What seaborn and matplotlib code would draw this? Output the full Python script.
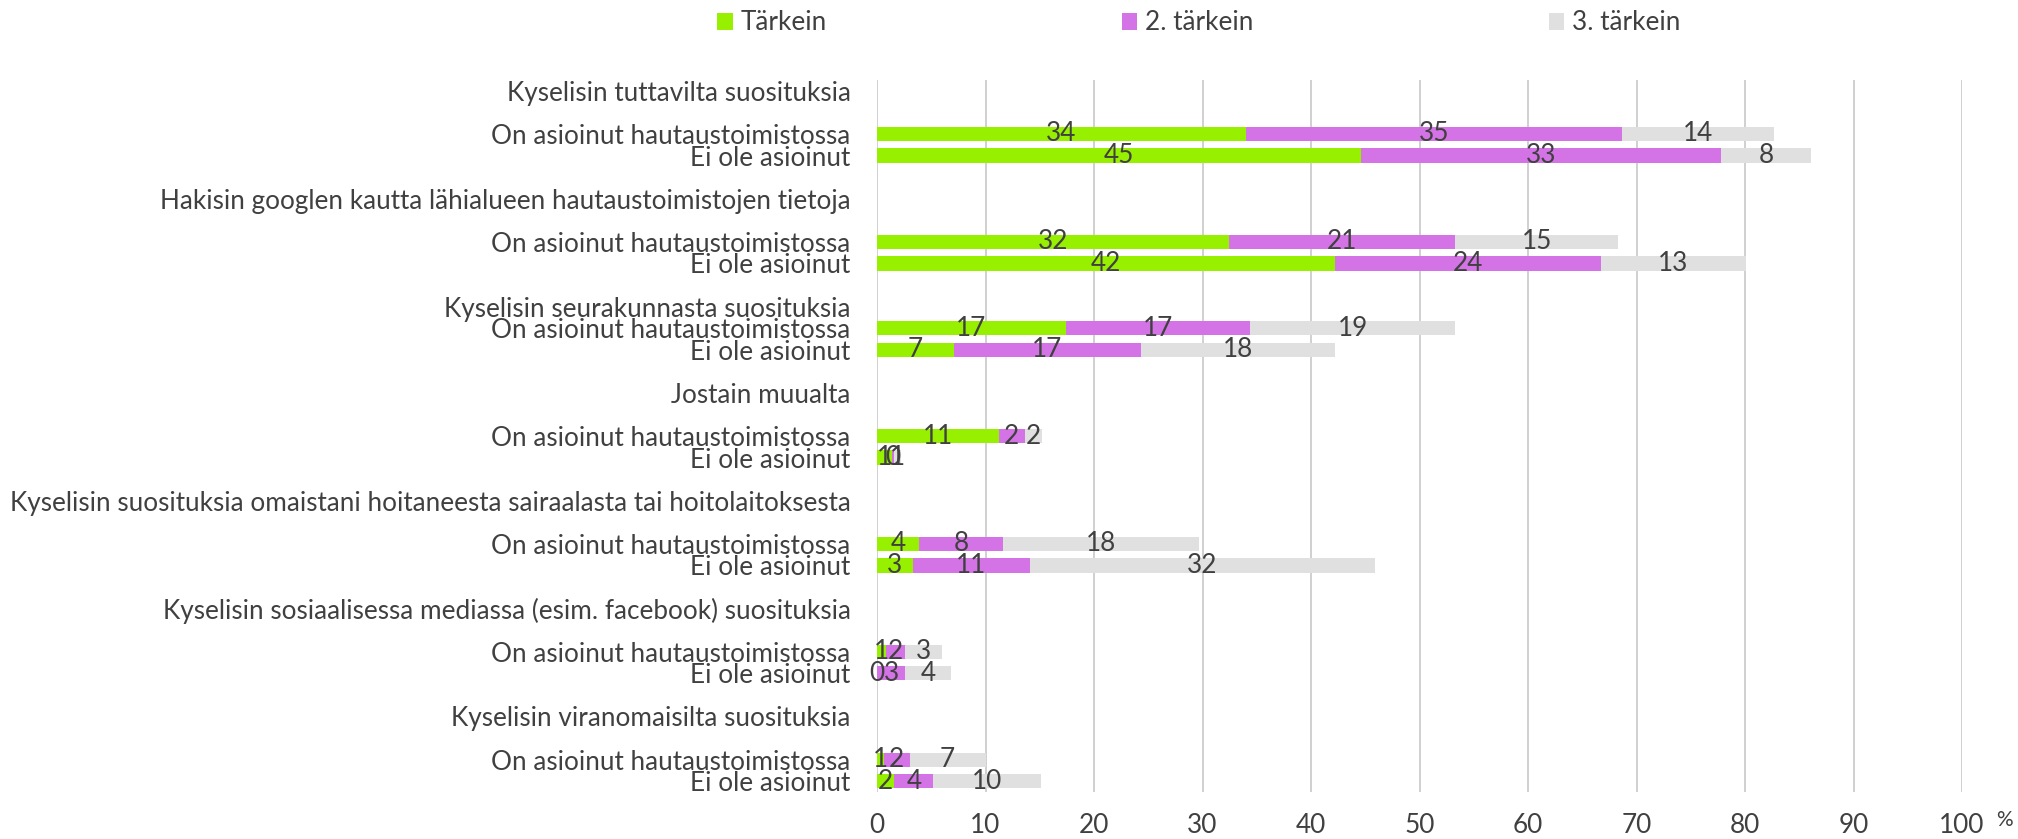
import matplotlib
matplotlib.use("Agg")
import matplotlib.pyplot as plt
import seaborn as sns
import pandas as pd
from matplotlib.patches import Patch

# ---------------- data ----------------
groups = [
    "Kyselisin tuttavilta suosituksia",
    "Hakisin googlen kautta lähialueen hautaustoimistojen tietoja",
    "Kyselisin seurakunnasta suosituksia",
    "Jostain muualta",
    "Kyselisin suosituksia omaistani hoitaneesta sairaalasta tai hoitolaitoksesta",
    "Kyselisin sosiaalisessa mediassa (esim. facebook) suosituksia",
    "Kyselisin viranomaisilta suosituksia",
]
subgroups = ["On asioinut hautaustoimistossa", "Ei ole asioinut"]
series = ["Tärkein", "2. tärkein", "3. tärkein"]

tarkein_on = [34.0, 32.4, 17.4, 11.2, 3.9, 0.8, 0.6]
tarkein_ei = [44.6, 42.2, 7.1, 1.4, 3.3, 0.0, 1.6]
toinen_on = [34.7, 20.9, 17.0, 2.4, 7.7, 1.8, 2.4]
toinen_ei = [33.2, 24.5, 17.2, 0.2, 10.8, 2.6, 3.6]
kolmas_on = [14.0, 15.0, 18.9, 1.6, 18.1, 3.4, 7.0]
kolmas_ei = [8.3, 13.4, 17.9, 0.6, 31.8, 4.2, 9.9]

xticks = [0, 10, 20, 30, 40, 50, 60, 70, 80, 90, 100]

# ---------------- style ----------------
sns.set_theme(style="white")
plt.rcParams["font.family"] = ["Lato", "DejaVu Sans"]
colors = ["#97F000", "#D473E6", "#E0E0E0"]
text_color = "#404040"
fs = 18.8

# ---------------- row layout ----------------
header_rows, on_rows, ei_rows = [], [], []
r = 0
for i, g in enumerate(groups):
    header_rows.append(r)
    if i == 2:
        on_rows.append(r + 1); ei_rows.append(r + 2); r += 4
    else:
        on_rows.append(r + 2); ei_rows.append(r + 3); r += 5

records = []
for i in range(len(groups)):
    records.append(dict(pos=on_rows[i], sub=subgroups[0],
                        s1=tarkein_on[i], s2=toinen_on[i], s3=kolmas_on[i]))
    records.append(dict(pos=ei_rows[i], sub=subgroups[1],
                        s1=tarkein_ei[i], s2=toinen_ei[i], s3=kolmas_ei[i]))
df = pd.DataFrame(records)
df["c1"] = df["s1"]
df["c2"] = df["c1"] + df["s2"]
df["c3"] = df["c2"] + df["s3"]

fig = plt.figure(figsize=(20.18, 8.39), dpi=100)
ax = fig.add_axes([877 / 2018, 1 - 792 / 839, (1962 - 877) / 2018, (792 - 80) / 839])

for col, color in zip(["c3", "c2", "c1"], colors[::-1]):
    sns.barplot(data=df, x=col, y="pos", orient="h", native_scale=True,
                color=color, width=0.66, ax=ax, saturation=1,
                errorbar=None, linewidth=0)

# data labels
for _, row in df.iterrows():
    left = 0.0
    for s in ["s1", "s2", "s3"]:
        v = row[s]
        ax.text(left + v / 2, row["pos"], f"{v:.0f}", ha="center", va="center",
                fontsize=fs, color=text_color)
        left += v

# y tick labels
ypos, ylabels = [], []
for i, g in enumerate(groups):
    ypos += [header_rows[i], on_rows[i], ei_rows[i]]
    ylabels += [g, subgroups[0], subgroups[1]]
ax.set_yticks(ypos)
ax.set_yticklabels(ylabels, fontsize=fs, color=text_color, ha="right")
ax.set_ylim(32.5, -0.5)

ax.set_xlim(0, 100)
ax.set_xticks(xticks)
ax.set_xticklabels([str(t) for t in xticks], fontsize=fs, color=text_color)
ax.tick_params(axis="y", length=0, pad=19)
ax.tick_params(axis="x", length=0, pad=15)
ax.xaxis.grid(True, color="#C8C8C8", linewidth=1.2)
ax.yaxis.grid(False)
ax.set_axisbelow(True)
for sp in ax.spines.values():
    sp.set_visible(False)
ax.set_xlabel("")
ax.set_ylabel("")

fig.text(2004 / 2018, 1 - 820 / 839, "%", fontsize=15, color=text_color,
         ha="center", va="center")

handles = [Patch(facecolor=c, edgecolor="none") for c in colors]
fig.legend(handles, series, loc="center", bbox_to_anchor=(0.594, 1 - 23 / 839),
           ncol=3, frameon=False, handlelength=0.6, handleheight=0.6,
           handletextpad=0.3, columnspacing=11.3, fontsize=fs,
           labelcolor=text_color)

fig.savefig("out.png", dpi=100)
